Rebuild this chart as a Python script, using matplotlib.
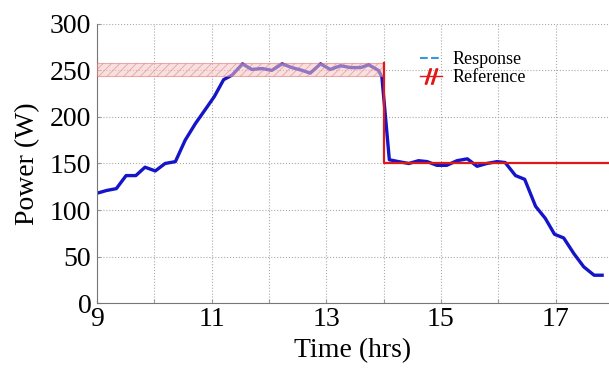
import matplotlib.pyplot as plt
from matplotlib.lines import Line2D

plt.rcParams['font.family'] = ['Liberation Serif', 'DejaVu Serif']
plt.rcParams['hatch.linewidth'] = 0.6

# Measured response (hrs, W)
time = [9.0, 9.17, 9.34, 9.51, 9.68, 9.84, 10.02, 10.19, 10.37, 10.54, 10.72, 10.88,
        11.05, 11.21, 11.36, 11.54, 11.70, 11.88, 12.05, 12.23, 12.40, 12.58, 12.72,
        12.90, 13.07, 13.25, 13.42, 13.60, 13.74, 13.91, 13.97, 14.10, 14.26, 14.44,
        14.61, 14.76, 14.93, 15.10, 15.28, 15.46, 15.63, 15.80, 15.98, 16.12, 16.30,
        16.46, 16.65, 16.82, 16.98, 17.14, 17.32, 17.49, 17.67, 17.81]
power = [118, 121, 123, 137, 137, 146, 142, 150, 152, 175, 193, 207,
         222, 240, 245, 257, 251, 252, 250, 257, 253, 250, 247,
         257, 251, 255, 253, 253, 256, 250, 243, 154, 152, 150,
         153, 152, 148, 148, 153, 155, 147, 150, 152, 151, 137,
         133, 104, 91, 74, 70, 53, 39, 30, 30]

# Reference: band until 14 h, then 150 W
band_t = [9, 14]
band_low = 244
band_high = 258
ref_t = [14, 14, 18]
ref_p = [band_high, 150, 150]

fig = plt.figure(figsize=(6.09, 3.78), dpi=100)
ax = fig.add_axes([0.159, 0.198, 0.841, 0.739])

ax.plot(time, power, color='#1414c8', lw=2.4, zorder=2)
ax.fill_between(band_t, band_low, band_high, facecolor='#f4c8c8', alpha=0.55,
                edgecolor='#e07070', hatch='////', lw=0.8, zorder=3)
ax.plot(ref_t, ref_p, color='#e01818', lw=1.6, zorder=4)

ax.set_xlim(9, 17.93)
ax.set_ylim(0, 300)
ax.set_xticks(range(9, 18))
ax.set_xticklabels([str(h) if h % 2 == 1 else '' for h in range(9, 18)])
ax.set_yticks(range(0, 301, 50))
ax.tick_params(labelsize=20, direction='in', length=3, color='#999999')
ax.tick_params(axis='x', pad=3)
ax.tick_params(axis='y', pad=4)
ax.grid(True, ls=':', color='#aaaaaa', lw=0.8)
for s in ['top', 'right']:
    ax.spines[s].set_visible(False)
for s in ['left', 'bottom']:
    ax.spines[s].set_color('#777777')

ax.set_xlabel('Time (hrs)', fontsize=20, labelpad=4)
ax.set_ylabel('Power (W)', fontsize=20, labelpad=7)

handles = [Line2D([], [], color='#3399dd', ls='--', lw=1.5),
           Line2D([], [], color='#e01818', lw=1.0, marker=r'$//$', markersize=11)]
ax.legend(handles, ['Response', 'Reference'], loc='upper left',
          bbox_to_anchor=(0.6, 0.96), frameon=False, fontsize=13,
          handlelength=1.2, handletextpad=0.6, labelspacing=0.05)

fig.savefig('out.png', dpi=100)
